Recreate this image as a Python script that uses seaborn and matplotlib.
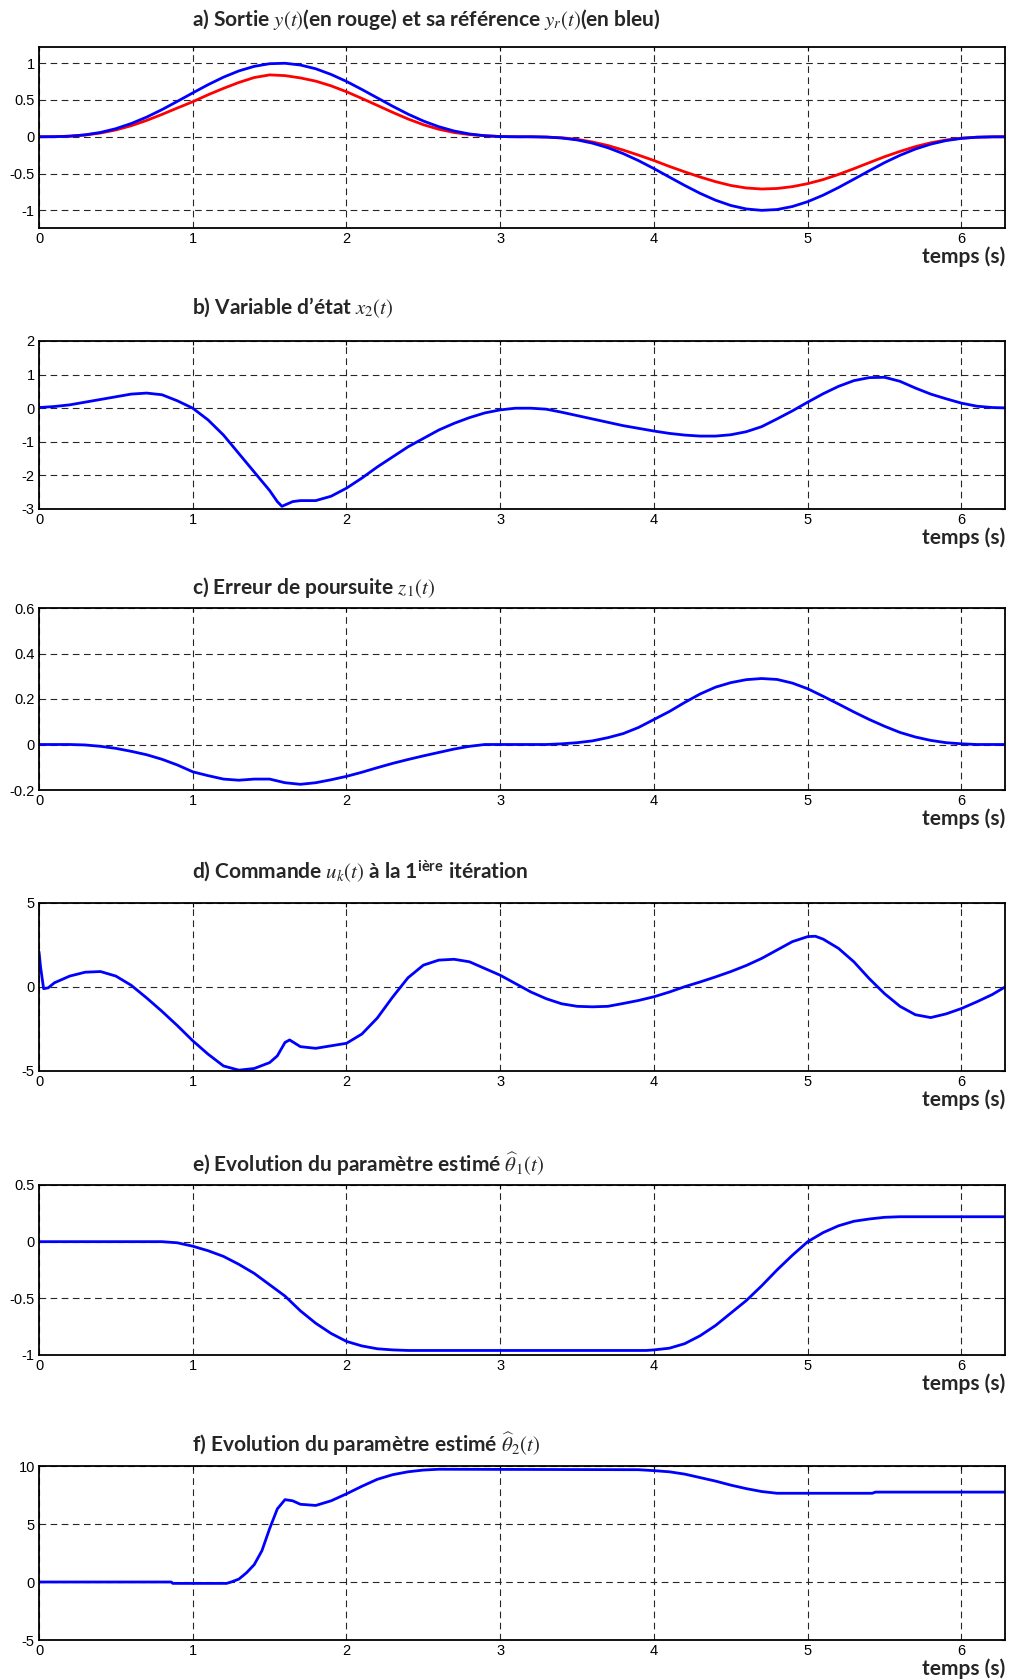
import matplotlib
matplotlib.use("Agg")
import matplotlib.pyplot as plt
import seaborn as sns

# ---- time grids (s) ----
T_A = [0.0, 0.1, 0.2, 0.3, 0.4, 0.5, 0.6, 0.7, 0.8, 0.9, 1.0, 1.1, 1.2, 1.3, 1.4, 1.5,
       1.6, 1.7, 1.8, 1.9, 2.0, 2.1, 2.2, 2.3, 2.4, 2.5, 2.6, 2.7, 2.8, 2.9, 3.0, 3.1,
       3.2, 3.3, 3.4, 3.5, 3.6, 3.7, 3.8, 3.9, 4.0, 4.1, 4.2, 4.3, 4.4, 4.5, 4.6, 4.7,
       4.8, 4.9, 5.0, 5.1, 5.2, 5.3, 5.4, 5.5, 5.6, 5.7, 5.8, 5.9, 6.0, 6.1, 6.2, 6.283]

# a) reference y_r(t) (blue) and output y(t) (red)
Y_REF = [0.0, 0.001, 0.008, 0.026, 0.059, 0.110, 0.180, 0.267, 0.369, 0.481, 0.596, 0.708,
         0.810, 0.895, 0.957, 0.993, 0.999, 0.975, 0.924, 0.847, 0.752, 0.643, 0.529, 0.415,
         0.308, 0.214, 0.137, 0.078, 0.038, 0.014, 0.003, 0.0, 0.0, -0.004, -0.017, -0.043,
         -0.087, -0.149, -0.229, -0.325, -0.433, -0.548, -0.662, -0.769, -0.862, -0.934,
         -0.981, -1.0, -0.989, -0.948, -0.882, -0.794, -0.690, -0.577, -0.462, -0.351,
         -0.252, -0.167, -0.100, -0.052, -0.022, -0.006, -0.001, 0.0]
Y_OUT = [0.0, 0.001, 0.008, 0.024, 0.051, 0.093, 0.150, 0.222, 0.304, 0.391, 0.476, 0.571,
         0.658, 0.738, 0.805, 0.841, 0.831, 0.800, 0.756, 0.692, 0.612, 0.521, 0.427, 0.332,
         0.242, 0.164, 0.102, 0.058, 0.030, 0.014, 0.003, 0.0, 0.0, -0.004, -0.014, -0.035,
         -0.071, -0.119, -0.181, -0.250, -0.323, -0.403, -0.477, -0.547, -0.610, -0.662,
         -0.696, -0.710, -0.703, -0.678, -0.637, -0.582, -0.512, -0.434, -0.352, -0.271,
         -0.199, -0.134, -0.082, -0.044, -0.019, -0.006, -0.001, 0.0]

# b) state variable x2(t)
T_B = [0.0, 0.1, 0.2, 0.3, 0.4, 0.5, 0.6, 0.7, 0.8, 0.9, 1.0, 1.1, 1.2, 1.3, 1.4, 1.5,
       1.55, 1.58, 1.65, 1.7,
       1.8, 1.9, 2.0, 2.1, 2.2, 2.3, 2.4, 2.5, 2.6, 2.7, 2.8, 2.9, 3.0, 3.1, 3.2, 3.3,
       3.4, 3.5, 3.6, 3.7, 3.8, 3.9, 4.0, 4.1, 4.2, 4.3, 4.4, 4.5, 4.6, 4.7, 4.8, 4.9,
       5.0, 5.1, 5.2, 5.3, 5.4, 5.5, 5.6, 5.7, 5.8, 5.9, 6.0, 6.1, 6.2, 6.283]
X2 = [0.02, 0.05, 0.10, 0.18, 0.26, 0.34, 0.42, 0.45, 0.40, 0.22, 0.0, -0.35, -0.80, -1.35,
      -1.90, -2.45,
      -2.78, -2.92, -2.78, -2.75,
      -2.75, -2.62, -2.38, -2.08, -1.75, -1.45, -1.15, -0.90, -0.65, -0.45, -0.28, -0.14,
      -0.05, 0.0, 0.0, -0.03, -0.12, -0.22, -0.32, -0.42, -0.52, -0.60, -0.68, -0.75,
      -0.80, -0.83, -0.83, -0.79, -0.70, -0.55, -0.32, -0.08, 0.18, 0.43, 0.65, 0.82,
      0.91, 0.92, 0.80, 0.60, 0.42, 0.28, 0.15, 0.06, 0.02, 0.01]

# c) tracking error z1(t)
Z1 = [0.0, 0.0, 0.0, -0.002, -0.008, -0.017, -0.030, -0.045, -0.065, -0.090,
      -0.120, -0.137, -0.152, -0.157, -0.152, -0.152, -0.168, -0.175, -0.168, -0.155,
      -0.140, -0.122, -0.102, -0.083, -0.066, -0.050, -0.035, -0.020, -0.008, 0.0,
      0.0, 0.0, 0.0, 0.0, 0.003, 0.008, 0.016, 0.030, 0.048, 0.075,
      0.110, 0.145, 0.185, 0.222, 0.252, 0.272, 0.285, 0.290, 0.286, 0.270,
      0.245, 0.212, 0.178, 0.143, 0.110, 0.080, 0.053, 0.033, 0.018, 0.008,
      0.003, 0.0, 0.0, 0.0]

# d) control u_k(t), first iteration
T_D = [0.0, 0.01, 0.03, 0.06, 0.1,
       0.2, 0.3, 0.4, 0.5, 0.6, 0.7, 0.8, 0.9, 1.0, 1.1, 1.2, 1.3, 1.4, 1.5,
       1.55, 1.6, 1.63,
       1.7, 1.8, 1.9, 2.0, 2.1, 2.2, 2.3, 2.4, 2.5, 2.6, 2.7, 2.8, 2.9, 3.0, 3.1, 3.2,
       3.3, 3.4, 3.5, 3.6, 3.7, 3.8, 3.9, 4.0, 4.1, 4.2, 4.3, 4.4, 4.5, 4.6, 4.7, 4.8,
       4.9, 5.0,
       5.05,
       5.1, 5.2, 5.3, 5.4, 5.5, 5.6, 5.7, 5.8, 5.9, 6.0, 6.1, 6.2,
       6.283]
U = [2.1, 1.2, -0.1, -0.05, 0.25,
     0.65, 0.88, 0.92, 0.65, 0.10, -0.65, -1.45, -2.30, -3.20, -4.00, -4.70, -4.95,
     -4.85, -4.50,
     -4.10, -3.30, -3.15,
     -3.55, -3.65, -3.50, -3.35, -2.80, -1.85, -0.60, 0.55, 1.30, 1.60, 1.65, 1.50,
     1.10, 0.70, 0.20, -0.30, -0.70, -1.00, -1.15, -1.18, -1.15, -0.98, -0.80, -0.58,
     -0.30, 0.02, 0.30, 0.60, 0.92, 1.28, 1.70, 2.20, 2.70, 3.00,
     3.02,
     2.85, 2.30, 1.50, 0.50, -0.40, -1.15, -1.65, -1.82, -1.60, -1.28, -0.88, -0.45,
     0.0]

# e) estimated parameter theta1(t)
T_E = [0.0, 0.8, 0.9, 1.0, 1.1, 1.2, 1.3, 1.4, 1.5, 1.6, 1.7, 1.8, 1.9, 2.0, 2.1, 2.2,
       2.3, 2.4, 3.95, 4.0, 4.1, 4.2, 4.3, 4.4, 4.5, 4.6, 4.7, 4.8, 4.9, 5.0, 5.1, 5.2,
       5.3, 5.4, 5.5, 5.6, 6.283]
TH1 = [0.0, 0.0, -0.01, -0.04, -0.08, -0.13, -0.20, -0.28, -0.38, -0.48, -0.61, -0.72,
       -0.81, -0.88, -0.92, -0.945, -0.955, -0.96, -0.96, -0.955, -0.94, -0.90, -0.83,
       -0.74, -0.63, -0.52, -0.39, -0.25, -0.12, 0.0, 0.08, 0.14, 0.18, 0.20, 0.215,
       0.22, 0.22]

# f) estimated parameter theta2(t)
T_F = [0.0, 0.86, 0.87, 1.22, 1.25, 1.3, 1.35, 1.4, 1.45, 1.5, 1.55, 1.6, 1.65, 1.7,
       1.8, 1.9, 2.0, 2.1, 2.2, 2.3, 2.4, 2.5, 2.6, 3.9, 4.0, 4.1, 4.2, 4.3, 4.4, 4.5,
       4.6, 4.7, 4.8, 5.42, 5.44, 6.283]
TH2 = [0.0, 0.0, -0.12, -0.12, 0.0, 0.25, 0.8, 1.5, 2.7, 4.6, 6.3, 7.1, 7.0, 6.7,
       6.6, 7.0, 7.6, 8.25, 8.85, 9.25, 9.5, 9.65, 9.72, 9.68, 9.6, 9.5, 9.3, 9.0, 8.7,
       8.35, 8.05, 7.8, 7.65, 7.65, 7.75, 7.75]

X_TICKS = [0, 1, 2, 3, 4, 5, 6]
X_LABELS = ["0", "1", "2", "3", "4", "5", "6"]
T_END = 6.283

TITLES = [
    r"a) Sortie $y(t)$(en rouge) et sa référence $y_r(t)$(en bleu)",
    r"b) Variable d’état $x_2(t)$",
    r"c) Erreur de poursuite $z_1(t)$",
    r"d) Commande $u_k(t)$ à la 1$^{\mathsf{ière}}$ itération",
    r"e) Evolution du paramètre estimé $\widehat{\theta}_1(t)$",
    r"f) Evolution du paramètre estimé $\widehat{\theta}_2(t)$",
]

Y_SETUP = [
    ((-1.24, 1.22), [-1, -0.5, 0, 0.5, 1], ["-1", "-0.5", "0", "0.5", "1"]),
    ((-3, 2), [-3, -2, -1, 0, 1, 2], ["-3", "-2", "-1", "0", "1", "2"]),
    ((-0.2, 0.6), [-0.2, 0, 0.2, 0.4, 0.6], ["-0.2", "0", "0.2", "0.4", "0.6"]),
    ((-5, 5), [-5, 0, 5], ["-5", "0", "5"]),
    ((-1, 0.5), [-1, -0.5, 0, 0.5], ["-1", "-0.5", "0", "0.5"]),
    ((-5, 10), [-5, 0, 5, 10], ["-5", "0", "5", "10"]),
]

# ---- style ----
sns.set_style("white")
plt.rcParams["font.family"] = ["Liberation Sans", "DejaVu Sans"]
plt.rcParams["mathtext.fontset"] = "custom"
plt.rcParams["mathtext.rm"] = "STIXGeneral"
plt.rcParams["mathtext.it"] = "STIXGeneral:italic"
plt.rcParams["mathtext.bf"] = "STIXGeneral:bold"
plt.rcParams["mathtext.sf"] = "Lato:bold"

W, H = 1016, 1680
fig = plt.figure(figsize=(W / 100, H / 100), dpi=100)

# axes boxes in pixels: (top, bottom), and title centre row
BOXES = [(47, 228), (341, 509), (608, 790), (903, 1071), (1185, 1355), (1466, 1640)]
TITLE_Y = [19, 308, 588, 872, 1164, 1444]
LEFT, RIGHT = 39, 1005

axes = []
for (top, bot) in BOXES:
    ax = fig.add_axes([LEFT / W, 1 - bot / H, (RIGHT - LEFT) / W, (bot - top) / H])
    axes.append(ax)

BLUE = "#0000FF"
RED = "#FF0000"
LW = 2.0

sns.lineplot(x=T_A, y=Y_OUT, ax=axes[0], color=RED, linewidth=LW, estimator=None, sort=False)
sns.lineplot(x=T_A, y=Y_REF, ax=axes[0], color=BLUE, linewidth=LW, estimator=None, sort=False)
sns.lineplot(x=T_B, y=X2, ax=axes[1], color=BLUE, linewidth=LW, estimator=None, sort=False)
sns.lineplot(x=T_A, y=Z1, ax=axes[2], color=BLUE, linewidth=LW, estimator=None, sort=False)
sns.lineplot(x=T_D, y=U, ax=axes[3], color=BLUE, linewidth=LW, estimator=None, sort=False)
sns.lineplot(x=T_E, y=TH1, ax=axes[4], color=BLUE, linewidth=LW, estimator=None, sort=False)
sns.lineplot(x=T_F, y=TH2, ax=axes[5], color=BLUE, linewidth=LW, estimator=None, sort=False)

for ax, (ylim, yt, yl), title, ty in zip(axes, Y_SETUP, TITLES, TITLE_Y):
    ax.set_xlim(0, T_END)
    ax.set_ylim(*ylim)
    ax.set_xticks(X_TICKS)
    ax.set_xticklabels(X_LABELS)
    ax.set_yticks(yt)
    ax.set_yticklabels(yl)
    ax.set_xlabel("")
    ax.set_ylabel("")
    ax.set_axisbelow(True)
    ax.grid(True, color="0.15", linestyle=(0, (6, 4)), linewidth=0.8)
    ax.tick_params(direction="in", length=3, width=0.8, top=True, right=True,
                   labelsize=10.5, pad=3, colors="black")
    for s in ax.spines.values():
        s.set_linewidth(1.3)
        s.set_color("black")
    ax.annotate("temps (s)", xy=(1, 0), xycoords="axes fraction",
                xytext=(0, -21), textcoords="offset points",
                ha="right", va="center", fontsize=15, fontweight="bold",
                family=["Lato", "DejaVu Sans"])
    fig.text(192 / W, 1 - ty / H, title, ha="left", va="center",
             fontsize=15, fontweight="bold", family=["Lato", "DejaVu Sans"])

fig.savefig("out.png", dpi=100)
